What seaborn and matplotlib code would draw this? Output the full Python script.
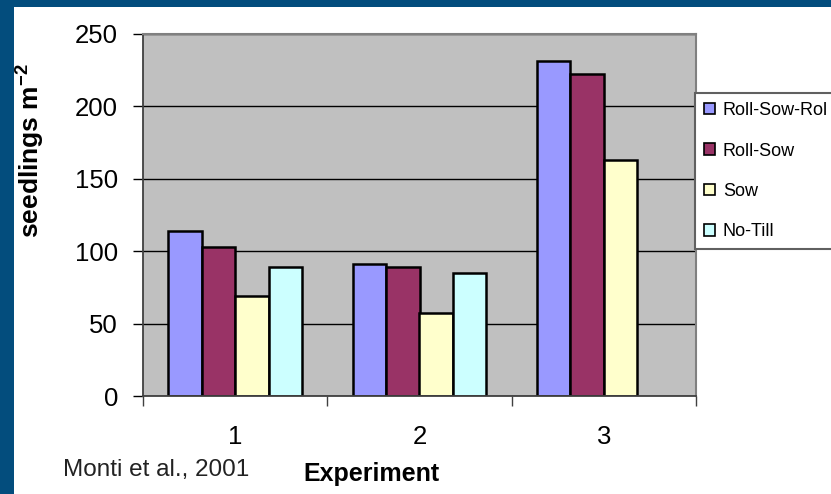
import pandas as pd
import matplotlib.pyplot as plt
import seaborn as sns
import numpy as np
from matplotlib.patches import Rectangle, Patch
from matplotlib.ticker import FixedLocator

# Data
experiments = ['1', '2', '3']
treatments = ['Roll-Sow-Roll', 'Roll-Sow', 'Sow', 'No-Till']
legend_labels = ['Roll-Sow-Rol', 'Roll-Sow', 'Sow', 'No-Till']
roll_sow_roll = [114, 91, 231]
roll_sow = [103, 89, 222]
sow = [69, 57, 163]
no_till = [89, 85, np.nan]
colors = ['#9999ff', '#993366', '#ffffcc', '#ccffff']

df = pd.DataFrame({
    'experiment': experiments * 4,
    'treatment': np.repeat(treatments, 3),
    'seedlings': roll_sow_roll + roll_sow + sow + no_till,
})

sns.set_style('white')
plt.rcParams['font.family'] = ['Liberation Sans', 'DejaVu Sans']
plt.rcParams['text.color'] = 'black'
plt.rcParams['xtick.color'] = 'black'
plt.rcParams['ytick.color'] = 'black'
plt.rcParams['mathtext.fontset'] = 'custom'
plt.rcParams['mathtext.rm'] = 'Liberation Sans'
plt.rcParams['mathtext.bf'] = 'Liberation Sans:bold'

W, H = 831, 494
fig = plt.figure(figsize=(W / 100, H / 100), dpi=100, facecolor='#034d7d')
# white panel inside the blue slide border
fig.patches.append(Rectangle((14 / W, 0), 1, 1 - 7 / H, transform=fig.transFigure,
                             facecolor='white', edgecolor='none', zorder=-10))

ax = fig.add_axes([143 / W, 1 - 396 / H, (696 - 143) / W, (396 - 33.5) / H])
ax.set_facecolor('#c0c0c0')

sns.barplot(data=df, x='experiment', y='seedlings', hue='treatment',
            order=experiments, hue_order=treatments, palette=colors,
            width=0.726, gap=0, edgecolor='black', linewidth=1.8,
            saturation=1, errorbar=None, legend=False, ax=ax)

ax.set_xlim(-0.5, 2.5)
ax.set_ylim(0, 250)
ax.set_yticks([0, 50, 100, 150, 200, 250])
ax.yaxis.grid(True, color='black', linewidth=1)
ax.set_axisbelow(True)
ax.tick_params(axis='y', direction='out', length=7, width=1, color='black',
               labelsize=18.5, pad=11, left=True)
ax.tick_params(axis='x', which='major', length=0, labelsize=18.5, pad=21)
ax.xaxis.set_minor_locator(FixedLocator([-0.5, 0.5, 1.5, 2.5]))
ax.tick_params(axis='x', which='minor', direction='out', length=7, width=1,
               color='#404040', bottom=True)
ax.set_xlabel('')
ax.set_ylabel('')

for side in ['left', 'bottom']:
    ax.spines[side].set_color('#404040')
    ax.spines[side].set_linewidth(1.3)
for side in ['top', 'right']:
    ax.spines[side].set_color('#808080')
    ax.spines[side].set_linewidth(1.5)
    ax.spines[side].set_visible(True)

fig.text(30 / W, 1 - 151 / H, r'seedlings m$^{\mathbf{-2}}$', rotation=90,
         fontsize=19, fontweight='bold', ha='center', va='center')
fig.text(371 / W, 1 - 474 / H, 'Experiment', fontsize=18, fontweight='bold',
         ha='center', va='center')
fig.text(63 / W, 1 - 470 / H, 'Monti et al., 2001', fontsize=17.5,
         ha='left', va='center', color='#222222')

handles = [Patch(facecolor=c, edgecolor='black', linewidth=1.2) for c in colors]
leg = fig.legend(handles, legend_labels, loc='upper left',
                 bbox_to_anchor=(695 / W, 1 - 93 / H), borderaxespad=0,
                 fontsize=13, frameon=True, fancybox=False, framealpha=1,
                 edgecolor='#606060', handlelength=0.6, handleheight=0.6,
                 handletextpad=0.45, labelspacing=1.3, borderpad=0.5)
leg.get_frame().set_linewidth(1.5)

fig.savefig('out.png', dpi=100, facecolor=fig.get_facecolor())
